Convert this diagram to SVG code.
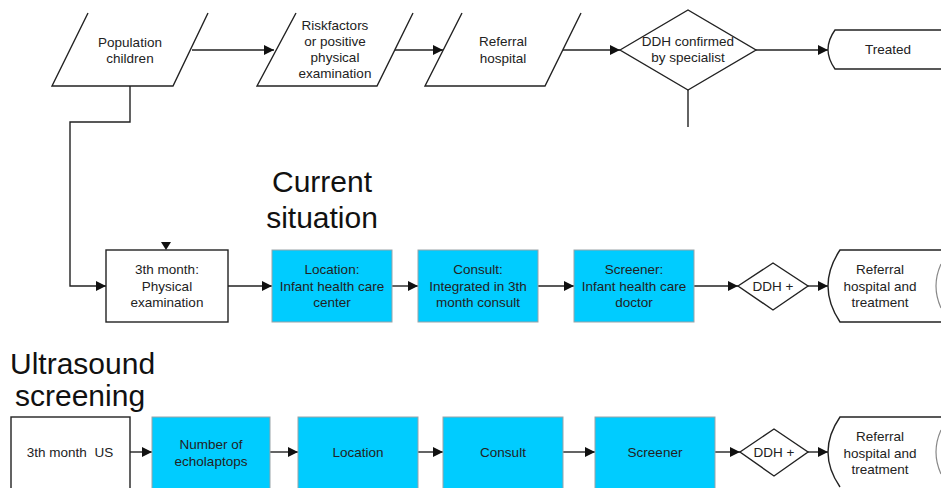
<svg xmlns="http://www.w3.org/2000/svg" width="941" height="488" viewBox="0 0 941 488">
<defs>
<marker id="ah" viewBox="0 0 10 10" refX="10" refY="5" markerWidth="10" markerHeight="10" markerUnits="userSpaceOnUse" orient="auto">
<path d="M0,0 L10,5 L0,10 Z" fill="#111"/>
</marker>
<style>
.s{fill:none;stroke:#222;stroke-width:1.4}
.w{fill:#fff;stroke:#222;stroke-width:1.4}
.c{fill:#00CCFF;stroke:#9aa3a8;stroke-width:1}
.t{font-family:"Liberation Sans",Arial,sans-serif;font-size:13.5px;fill:#222;text-anchor:middle;white-space:pre}
.h{font-family:"Liberation Sans",Arial,sans-serif;font-size:30px;fill:#111}
.e{fill:none;stroke:#222;stroke-width:1.4;marker-end:url(#ah)}
</style>
</defs>
<rect width="941" height="488" fill="#fff"/>

<g id="connectors">
<path class="e" d="M192,50 H274"/>
<path class="e" d="M395,50 H443"/>
<path class="e" d="M563,50 H620"/>
<path class="e" d="M756,50 H828"/>
<path class="s" d="M688,90 V127"/>
<path class="e" d="M130,86 V122 H70 V286 H106"/>
<path class="e" d="M228,286 H272"/>
<path class="e" d="M392,286 H418"/>
<path class="e" d="M538,286 H574"/>
<path class="e" d="M694,286 H738"/>
<path class="e" d="M808,286 H828"/>
<path class="e" d="M130,452 H152"/>
<path class="e" d="M270,452 H298"/>
<path class="e" d="M418,452 H443"/>
<path class="e" d="M563,452 H595"/>
<path class="e" d="M715,452 H740"/>
<path class="e" d="M808,452 H828"/>
</g>

<g id="population">
<path class="s" d="M88,13 L52,86 H173 L208,13"/>
<text class="t" x="130" y="47">Population</text>
<text class="t" x="130" y="63">children</text>
</g>
<g id="riskfactors">
<path class="s" d="M296,13 L257,86 H377 L413,13"/>
<text class="t" x="335" y="30">Riskfactors</text>
<text class="t" x="335" y="46">or positive</text>
<text class="t" x="335" y="62">physical</text>
<text class="t" x="335" y="78">examination</text>
</g>
<g id="referral-top">
<path class="s" d="M462,13 L425,86 H545 L581,13"/>
<text class="t" x="503" y="46">Referral</text>
<text class="t" x="503" y="63">hospital</text>
</g>
<g id="ddh-confirmed">
<path class="w" d="M620,50 L688,10 L756,50 L688,90 Z"/>
<text class="t" x="688" y="46">DDH confirmed</text>
<text class="t" x="688" y="62">by specialist</text>
</g>
<g id="treated">
<path class="s" d="M941,30 H835 Q821,49.5 835,69 H941"/>
<text class="t" x="888" y="54">Treated</text>
</g>

<g id="title-current">
<text class="h" x="322" y="192" text-anchor="middle">Current</text>
<text class="h" x="322" y="228" text-anchor="middle">situation</text>
</g>

<g id="physical-exam">
<rect class="w" x="106" y="250" width="122" height="72"/>
<path d="M161,242 L171,242 L166,250 Z" fill="#111"/>
<text class="t" x="167" y="274">3th month:</text>
<text class="t" x="167" y="291">Physical</text>
<text class="t" x="167" y="307">examination</text>
</g>
<g id="location-cur">
<rect class="c" x="272" y="250" width="120" height="72"/>
<text class="t" x="332" y="274">Location:</text>
<text class="t" x="332" y="291">Infant health care</text>
<text class="t" x="332" y="307">center</text>
</g>
<g id="consult-cur">
<rect class="c" x="418" y="250" width="120" height="72"/>
<text class="t" x="478" y="274">Consult:</text>
<text class="t" x="478" y="291">Integrated in 3th</text>
<text class="t" x="478" y="307">month consult</text>
</g>
<g id="screener-cur">
<rect class="c" x="574" y="250" width="120" height="72"/>
<text class="t" x="634" y="274">Screener:</text>
<text class="t" x="634" y="291">Infant health care</text>
<text class="t" x="634" y="307">doctor</text>
</g>
<g id="ddh-cur">
<path class="w" d="M738,286 L773,263 L808,286 L773,310 Z"/>
<text class="t" x="773" y="291">DDH +</text>
</g>
<g id="referral-cur">
<path class="s" d="M941,250 H840 Q816,286 840,322 H941"/>
<text class="t" x="880" y="274">Referral</text>
<text class="t" x="880" y="291">hospital and</text>
<text class="t" x="880" y="307">treatment</text>
<path d="M941,264 Q931,286 941,308" fill="none" stroke="#888" stroke-width="1.2"/>
</g>

<g id="title-us">
<text class="h" x="10" y="374">Ultrasound</text>
<text class="h" x="15" y="406">screening</text>
</g>

<g id="us-3th">
<rect class="w" x="11" y="417" width="119" height="80"/>
<text class="t" x="70" y="457" xml:space="preserve">3th month  US</text>
</g>
<g id="echolaptops">
<rect class="c" x="152" y="417" width="118" height="80"/>
<text class="t" x="211" y="449">Number of</text>
<text class="t" x="211" y="466">echolaptops</text>
</g>
<g id="location-us">
<rect class="c" x="298" y="417" width="120" height="80"/>
<text class="t" x="358" y="457">Location</text>
</g>
<g id="consult-us">
<rect class="c" x="443" y="417" width="120" height="80"/>
<text class="t" x="503" y="457">Consult</text>
</g>
<g id="screener-us">
<rect class="c" x="595" y="417" width="120" height="80"/>
<text class="t" x="655" y="457">Screener</text>
</g>
<g id="ddh-us">
<path class="w" d="M740,452 L774,429 L808,452 L774,476 Z"/>
<text class="t" x="774" y="457">DDH +</text>
</g>
<g id="referral-us">
<path class="s" d="M941,417 H840 Q816,452 840,487"/>
<text class="t" x="880" y="441">Referral</text>
<text class="t" x="880" y="458">hospital and</text>
<text class="t" x="880" y="474">treatment</text>
<path d="M941,430 Q931,452 941,474" fill="none" stroke="#888" stroke-width="1.2"/>
</g>
</svg>
